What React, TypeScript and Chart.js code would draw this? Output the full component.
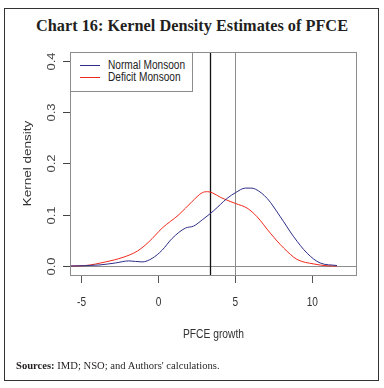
import React, { useEffect, useRef } from 'react';
import { Chart, registerables } from 'chart.js';

Chart.register(...registerables);

// ---- Data ----
const normalX = [-5.75, -3.87, -2.79, -1.93, -1.06, -0.41, 0.24, 0.89, 1.75, 2.29, 2.84, 3.59, 4.46, 5.0, 5.65, 6.0, 6.3, 7.06, 7.92, 8.79, 9.66, 10.5, 11.6];
const normalY = [0, 0.002, 0.006, 0.010, 0.008, 0.015, 0.031, 0.054, 0.074, 0.078, 0.090, 0.108, 0.132, 0.143, 0.152, 0.152, 0.150, 0.132, 0.096, 0.057, 0.025, 0.006, 0.001];
const deficitX = [-5.75, -4.74, -3.44, -2.3, -1.38, -0.63, 0.24, 1.32, 2.19, 2.84, 3.2, 3.49, 4.03, 5.0, 5.76, 6.41, 7.27, 8.14, 9.0, 10.1, 10.95, 11.6];
const deficitY = [0, 0.001, 0.008, 0.017, 0.029, 0.047, 0.074, 0.100, 0.126, 0.143, 0.145, 0.143, 0.134, 0.122, 0.113, 0.096, 0.064, 0.035, 0.013, 0.004, 0.0005, 0];
const xTicks = [-5, 0, 5, 10];
const xTickLabels = ['-5', '0', '5', '10'];
const yTicks = [0, 0.1, 0.2, 0.3, 0.4];
const yTickLabels = ['0.0', '0.1', '0.2', '0.3', '0.4'];
const refLines = [3.38, 5.0];
const seriesNames = ['Normal Monsoon', 'Deficit Monsoon'];
const seriesColors = ['#2e2d88', '#f0281a'];

const SANS = '"Liberation Sans", Arial, sans-serif';
const SERIF = '"Liberation Serif", "Times New Roman", serif';

function squashText(ctx: any, text: string, x: number, y: number, font: string, sx: number, color: string) {
  ctx.save();
  ctx.translate(x, y);
  ctx.scale(sx, 1);
  ctx.font = font;
  ctx.fillStyle = color;
  ctx.textAlign = 'center';
  ctx.textBaseline = 'middle';
  ctx.fillText(text, 0, 0);
  ctx.restore();
}

const rPlot = {
  id: 'rPlot',
  beforeDatasetsDraw(chart: any) {
    const { ctx, chartArea: a, scales } = chart;
    const xs = scales.x, ys = scales.y;
    ctx.save();
    ctx.lineWidth = 1;
    ctx.strokeStyle = '#8c8c8c';
    const y0 = Math.round(ys.getPixelForValue(0)) + 0.5;
    ctx.beginPath();
    ctx.moveTo(a.left, y0);
    ctx.lineTo(a.right, y0);
    ctx.stroke();
    refLines.forEach((v, i) => {
      const px = Math.round(xs.getPixelForValue(v)) + 0.5;
      ctx.strokeStyle = i === 0 ? '#111111' : '#8c8c8c';
      ctx.lineWidth = i === 0 ? 1.3 : 1;
      ctx.beginPath();
      ctx.moveTo(px, a.top);
      ctx.lineTo(px, a.bottom);
      ctx.stroke();
    });
    ctx.restore();
  },
  afterDraw(chart: any) {
    const { ctx, chartArea: a, scales } = chart;
    const xs = scales.x, ys = scales.y;
    ctx.save();
    // plot box
    ctx.strokeStyle = '#8c8c8c';
    ctx.lineWidth = 1;
    ctx.strokeRect(Math.round(a.left) + 0.5, Math.round(a.top) + 0.5, Math.round(a.right - a.left) - 1, Math.round(a.bottom - a.top));
    // y ticks + rotated labels
    ctx.strokeStyle = '#444';
    yTicks.forEach((v, i) => {
      const py = Math.round(ys.getPixelForValue(v)) + 0.5;
      ctx.beginPath();
      ctx.moveTo(a.left - 7, py);
      ctx.lineTo(a.left, py);
      ctx.stroke();
      ctx.save();
      ctx.translate(a.left - 18, py);
      ctx.rotate(-Math.PI / 2);
      ctx.scale(1, 0.85);
      ctx.fillStyle = '#444';
      ctx.font = `13px ${SANS}`;
      ctx.textAlign = 'center';
      ctx.textBaseline = 'middle';
      ctx.fillText(yTickLabels[i], 0, 0);
      ctx.restore();
    });
    // x tick labels
    xTicks.forEach((v, i) => {
      squashText(ctx, xTickLabels[i], xs.getPixelForValue(v), 302, `13.5px ${SANS}`, 0.75, '#333');
    });
    // y axis title
    ctx.save();
    ctx.translate(28, (a.top + a.bottom) / 2);
    ctx.rotate(-Math.PI / 2);
    ctx.scale(1, 0.85);
    ctx.fillStyle = '#333';
    ctx.font = `13.5px ${SANS}`;
    ctx.textAlign = 'center';
    ctx.textBaseline = 'middle';
    ctx.fillText('Kernel density', 0, 0);
    ctx.restore();
    // x axis title
    squashText(ctx, 'PFCE growth', (a.left + a.right) / 2, 334.5, `13px ${SANS}`, 0.79, '#333');
    ctx.restore();
  },
};

export default function App() {
  const ref = useRef<HTMLCanvasElement | null>(null);
  useEffect(() => {
    if (!ref.current) return;
    const chart = new Chart(ref.current, {
      type: 'line',
      data: {
        datasets: [
          {
            label: seriesNames[0],
            data: normalX.map((x, i) => ({ x, y: normalY[i] })),
            borderColor: seriesColors[0],
            borderWidth: 1,
            pointRadius: 0,
            cubicInterpolationMode: 'monotone',
            fill: false,
          },
          {
            label: seriesNames[1],
            data: deficitX.map((x, i) => ({ x, y: deficitY[i] })),
            borderColor: seriesColors[1],
            borderWidth: 1,
            pointRadius: 0,
            cubicInterpolationMode: 'monotone',
            fill: false,
          },
        ],
      },
      options: {
        animation: false,
        responsive: false,
        events: [],
        layout: { padding: { left: 70, top: 52, right: 27, bottom: 0 } },
        plugins: { legend: { display: false }, tooltip: { enabled: false }, title: { display: false } },
        scales: {
          x: {
            type: 'linear',
            min: -5.75,
            max: 12.9,
            afterBuildTicks: (s: any) => {
              s.ticks = xTicks.map((v) => ({ value: v }));
            },
            afterFit: (s: any) => {
              s.height = 113;
            },
            grid: { drawOnChartArea: false, drawTicks: true, tickLength: 8, color: '#555', tickColor: '#555' },
            border: { display: false },
            ticks: { display: false, autoSkip: false, maxRotation: 0, minRotation: 0 },
          },
          y: {
            type: 'linear',
            display: false,
            min: -0.0175,
            max: 0.4175,
          },
        },
      },
      plugins: [rPlot],
    } as any);
    return () => chart.destroy();
  }, []);

  return (
    <div style={{ position: 'absolute', left: 0, top: 0, width: 384, height: 388, background: '#fff', overflow: 'hidden' }}>
      <div style={{ position: 'absolute', left: 4, top: 8, width: 375, height: 373, boxSizing: 'border-box', border: '1.5px solid #333' }} />
      <div style={{ position: 'absolute', left: 0, top: 16, width: 384, textAlign: 'center', fontFamily: SERIF, fontWeight: 'bold', fontSize: 16.3, lineHeight: '20px', color: '#231f20' }}>
        Chart 16: Kernel Density Estimates of PFCE
      </div>
      <canvas ref={ref} width={384} height={388} style={{ position: 'absolute', left: 0, top: 0, width: 384, height: 388 }} />
      <div style={{ position: 'absolute', left: 70, top: 52, width: 123, height: 40, boxSizing: 'border-box', border: '1px solid #8c8c8c', background: '#fff' }}>
        {seriesNames.map((n, i) => (
          <div key={n} style={{ position: 'absolute', left: 0, top: 6 + i * 12, height: 12, width: 120 }}>
            <div style={{ position: 'absolute', left: 9, top: 6, width: 20, height: 1, background: seriesColors[i] }} />
            <div style={{ position: 'absolute', left: 37, top: 0, fontFamily: SANS, fontSize: 12.5, lineHeight: '13px', color: '#222', whiteSpace: 'nowrap', transform: 'scaleX(0.81)', transformOrigin: 'left center' }}>{n}</div>
          </div>
        ))}
      </div>
      <div style={{ position: 'absolute', left: 16, top: 359, fontFamily: SERIF, fontSize: 10.6, lineHeight: '14px', color: '#231f20', whiteSpace: 'nowrap' }}>
        <b>Sources:</b> IMD; NSO; and Authors' calculations.
      </div>
    </div>
  );
}
